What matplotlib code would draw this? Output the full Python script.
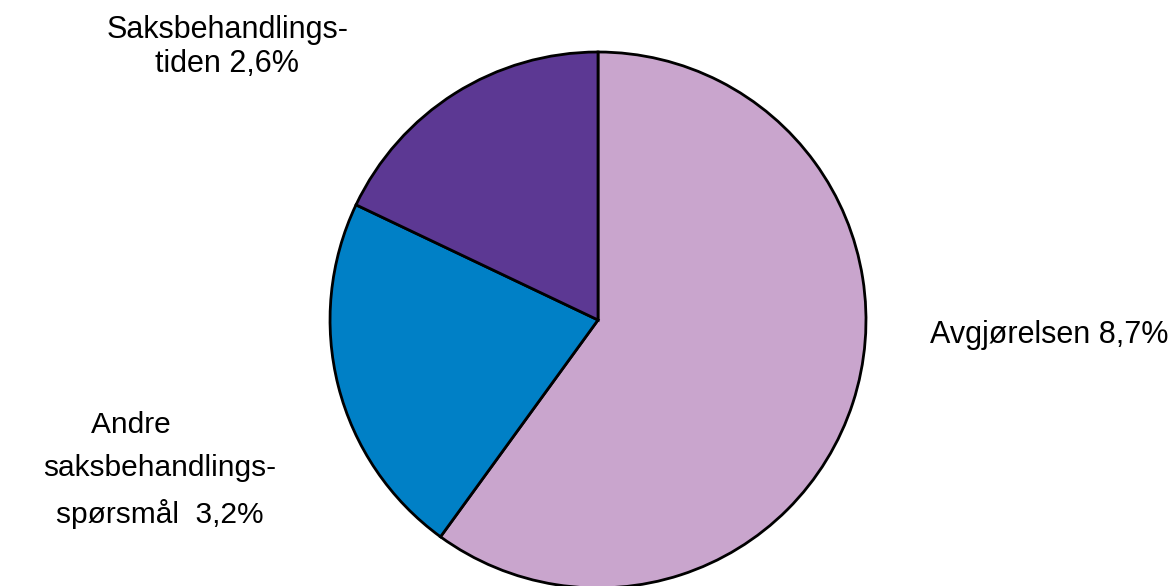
import matplotlib.pyplot as plt

# data
labels = ["Avgjørelsen 8,7%", "Andre       \nsaksbehandlings-\nspørsmål  3,2%", "Saksbehandlings-\ntiden 2,6%"]
values = [8.7, 3.2, 2.6]
colors = ["#C9A5CD", "#0080C6", "#5C3893"]

plt.rcParams['font.family'] = ['Liberation Sans', 'DejaVu Sans']

fig = plt.figure(figsize=(11.72, 5.86), dpi=100)
ax = fig.add_axes([0.2816, -0.0034, 0.4573, 0.9147])
ax.pie(values, colors=colors, startangle=90, counterclock=False,
       wedgeprops=dict(edgecolor='black', linewidth=2))
ax.set_xlim(-1, 1)
ax.set_ylim(-1, 1)
ax.set_aspect('equal')
ax.axis('off')

fs = 22
fig.text(0.7935, 0.428, labels[0], fontsize=fs, ha='left', va='center')
fig.text(0.1365, 0.198, labels[1], fontsize=21.5, ha='center', va='center',
         multialignment='center', linespacing=1.7)
fig.text(0.194, 0.92, labels[2], fontsize=fs, ha='center', va='center',
         multialignment='center', linespacing=1.17)

fig.savefig("out.png", dpi=100)
